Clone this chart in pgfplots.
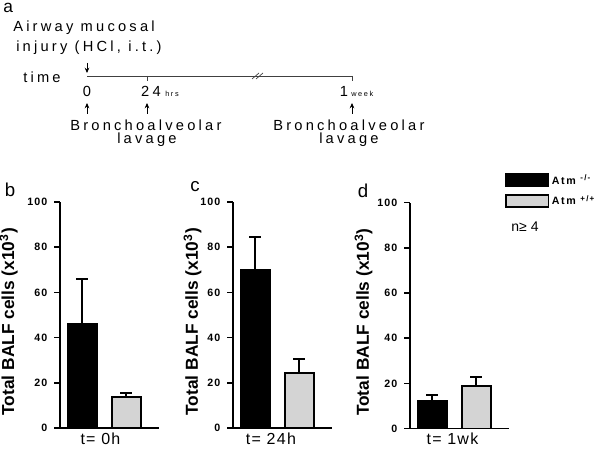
\documentclass[border=0pt]{standalone}
\usepackage{fontspec}
\setmainfont{Liberation Sans}
\newfontfamily\spaced[LetterSpace=22]{Liberation Sans}
\usepackage{pgfplots}
\pgfplotsset{compat=1.18}
\usetikzlibrary{arrows.meta}

\definecolor{bargray}{RGB}{212,212,212}

\pgfplotsset{
  balf/.style={
    scale only axis, width=74pt, height=169.5pt,
    anchor=south west,
    xmin=-0.5, xmax=1.73, ymin=0, ymax=100,
    axis x line=bottom, axis y line=left,
    axis line style={line width=1.2pt, -},
    xtick=\empty, ytick={0,20,...,100},
    tick align=outside, major tick length=4.5pt,
    tick style={line width=1.2pt, black},
    /pgf/number format/assume math mode=true,
    yticklabel style={font=\fontsize{8}{9}\selectfont\bfseries\addfontfeature{LetterSpace=10}, xshift=-1.5pt},
    ylabel={Total BALF cells (x10\textsuperscript{3})},
    ylabel style={font=\fontsize{13}{15}\selectfont\bfseries, anchor=center},
    xlabel style={font=\fontsize{12}{14}\selectfont\addfontfeature{LetterSpace=8}, anchor=north},
  },
  bbar/.style={ybar, bar width=21.75pt, bar shift=0pt, draw=black, line width=1.5pt,
    error bars/.cd, y dir=plus, y explicit,
    error bar style={line width=1.5pt, black},
    error mark options={rotate=90, mark size=4.5pt, line width=1.5pt, black}},
}

\begin{document}
\begin{tikzpicture}
\useasboundingbox (0pt,0pt) rectangle (450pt,-339pt);

% panel a: timeline
\begin{scope}[x=0.75pt, y=-0.75pt]
  \node[anchor=base west, inner sep=0pt, font=\fontsize{13}{15}\selectfont] at (3,13) {a};
  \node[anchor=base west, inner sep=0pt, font=\fontsize{11}{13}\selectfont\spaced] at (13,32) {Airway mucosal};
  \node[anchor=base west, inner sep=0pt, font=\fontsize{11}{13}\selectfont\spaced] at (16,52) {injury (HCl, i.t.)};
  \node[anchor=base west, inner sep=0pt, font=\fontsize{11}{13}\selectfont\spaced] at (23,83) {time};
  \draw[-{Stealth[length=4pt,width=3.5pt]}, line width=0.6pt] (87,63) -- (87,73);
  \draw[line width=0.6pt, black!75] (87,76) -- (352,76);
  \draw[line width=0.6pt, black!75] (147,76) -- (147,81) (352,76) -- (352,81);
  \draw[line width=0.5pt, black!75] (252,79) -- (259,73) (256,79) -- (263,73);
  \node[anchor=base, inner sep=0pt, font=\fontsize{11}{13}\selectfont] at (87,97) {0};
  \node[anchor=base, inner sep=0pt, font=\fontsize{11}{13}\selectfont\spaced] at (151,97) {24};
  \node[anchor=base west, inner sep=0pt, font=\fontsize{5.5}{6}\selectfont\spaced] at (165,97) {hrs};
  \node[anchor=base, inner sep=0pt, font=\fontsize{11}{13}\selectfont] at (344,97) {1};
  \node[anchor=base west, inner sep=0pt, font=\fontsize{5.5}{6}\selectfont\spaced] at (351,97) {week};
  \foreach \xx in {87,147,352}
    \draw[-{Stealth[length=4pt,width=3.5pt]}, line width=0.6pt] (\xx,114) -- (\xx,103);
  \node[anchor=base west, inner sep=0pt, font=\fontsize{11}{13}\selectfont\spaced] at (70,131) {Bronchoalveolar};
  \node[anchor=base west, inner sep=0pt, font=\fontsize{11}{13}\selectfont\spaced] at (117,144) {lavage};
  \node[anchor=base west, inner sep=0pt, font=\fontsize{11}{13}\selectfont\spaced] at (273,131) {Bronchoalveolar};
  \node[anchor=base west, inner sep=0pt, font=\fontsize{11}{13}\selectfont\spaced] at (319,144) {lavage};
  \node[font=\fontsize{14}{16}\selectfont] at (10,190) {b};
  \node[font=\fontsize{14}{16}\selectfont] at (195,187) {c};
  \node[font=\fontsize{14}{16}\selectfont] at (363,191) {d};
  \node[font=\fontsize{10.5}{12}\selectfont] at (525,227) {n≥ 4};
\end{scope}

% panel b
\begin{axis}[balf, at={(45pt,-321pt)},
  ylabel style={at={(axis description cs:-0.52,0.47)}},
  xlabel={t= 0h}, xlabel style={at={(axis description cs:0.41,0)}}]
\addplot[fill=black, bbar] coordinates {(0,46) +- (0,20)};
\addplot[fill=bargray, bbar] coordinates {(1,13.5) +- (0,2)};
\end{axis}

% panel c
\begin{axis}[balf, at={(174.75pt,-321pt)},
  ylabel style={at={(axis description cs:-0.41,0.47)}},
  xlabel={t= 24h}, xlabel style={at={(axis description cs:0.385,0)}}]
\addplot[fill=black, bbar] coordinates {(0,70) +- (0,14.5)};
\addplot[fill=bargray, bbar] coordinates {(1,24.5) +- (0,6)};
\end{axis}

% panel d
\begin{axis}[balf, at={(307.5pt,-321.4pt)},
  ylabel style={at={(axis description cs:-0.47,0.47)}},
  xlabel={t= 1wk}, xlabel style={at={(axis description cs:0.43,0)}},
  legend style={draw=none, fill=none, inner sep=0pt, at={(axis description cs:0.96,1.137)},
    anchor=north west, row sep=3pt, font=\fontsize{8}{9}\selectfont\bfseries\addfontfeature{LetterSpace=15},
    cells={anchor=west}}]
\addplot[forget plot, fill=black, bbar] coordinates {(0,12) +- (0,3)};
\addplot[forget plot, fill=bargray, bbar] coordinates {(1,19) +- (0,4)};
\addlegendimage{legend image code/.code={\draw[fill=black, line width=1.2pt] (0pt,-4.5pt) rectangle (32pt,4.5pt);}}
\addlegendentry{Atm \textsuperscript{-/-}}
\addlegendimage{legend image code/.code={\draw[fill=bargray, line width=1.2pt] (0pt,-4.5pt) rectangle (32pt,4.5pt);}}
\addlegendentry{Atm \textsuperscript{+/+}}
\end{axis}
\end{tikzpicture}
\end{document}
